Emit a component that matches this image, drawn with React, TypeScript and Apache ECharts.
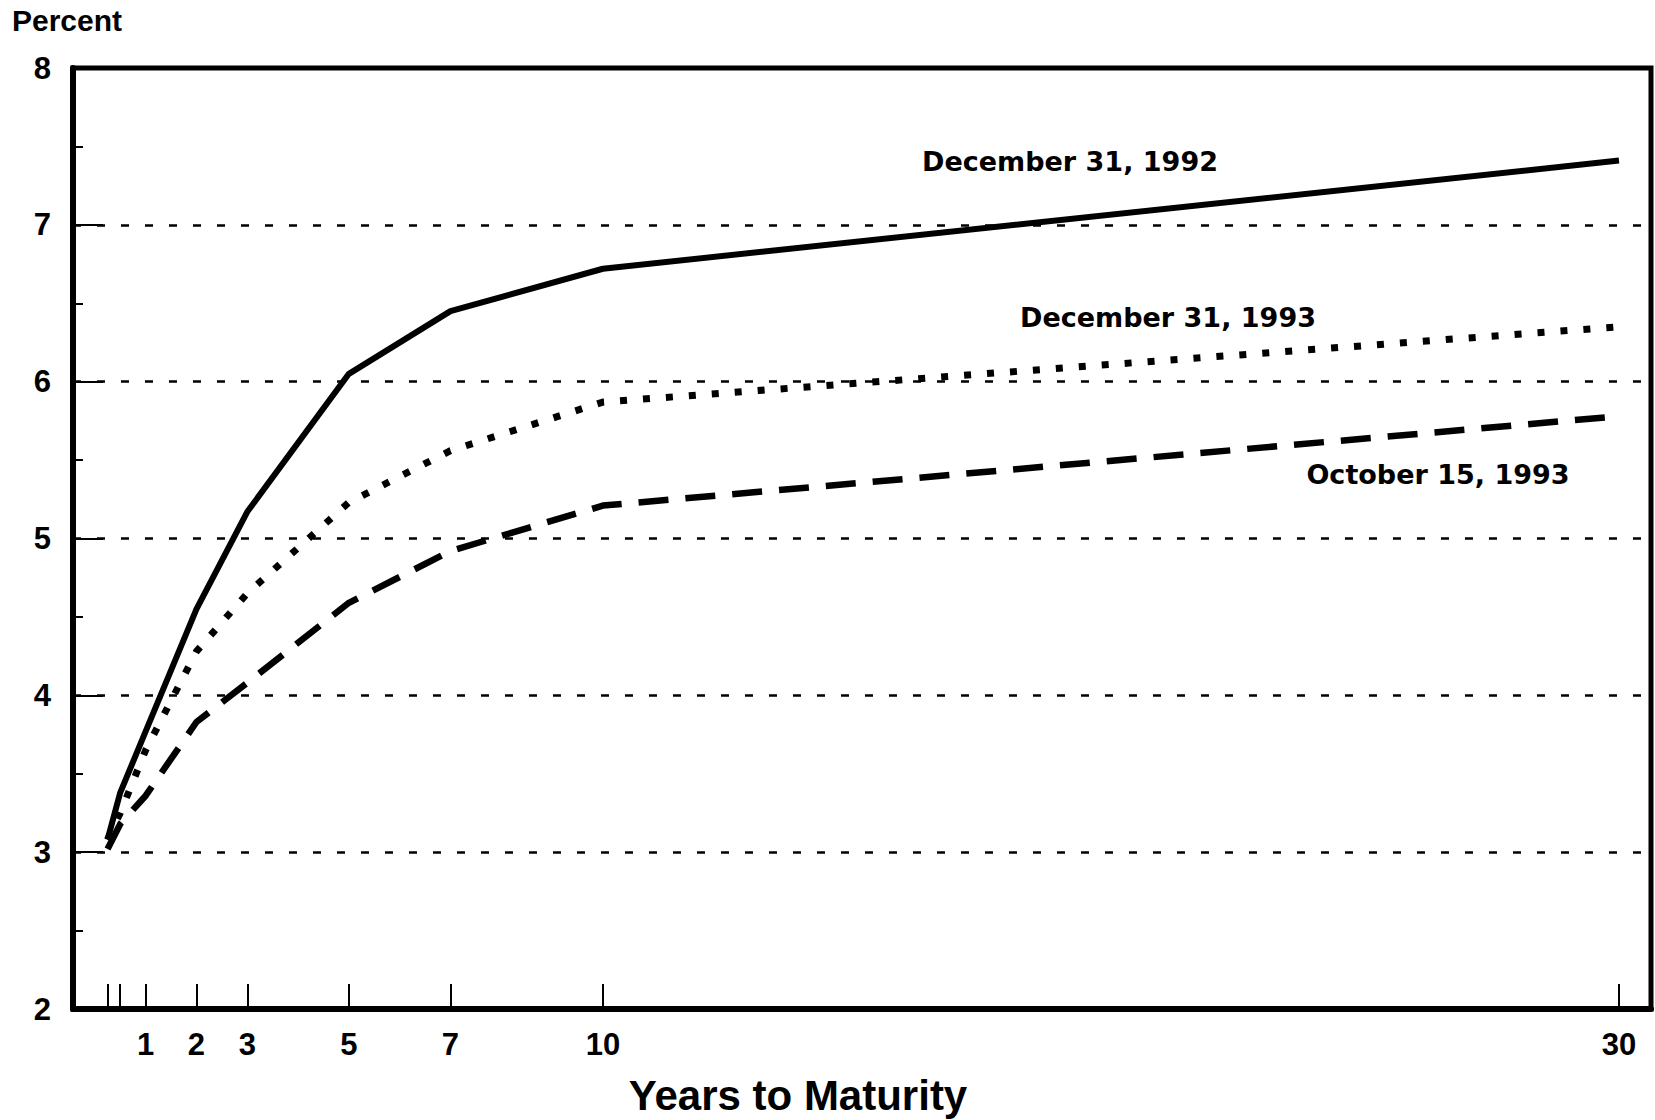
import React, { useEffect, useRef } from "react";
import * as echarts from "echarts";

const tickYears = [0.25, 0.5, 1, 2, 3, 5, 7, 10, 30];
const labelYears = [1, 2, 3, 5, 7, 10, 30];
const maturities = [0.25, 0.5, 1, 2, 3, 5, 7, 10, 30];
const dec1992 = [3.08, 3.38, 3.77, 4.55, 5.17, 6.05, 6.45, 6.72, 7.41];
const dec1993 = [3.08, 3.25, 3.65, 4.28, 4.65, 5.23, 5.56, 5.87, 6.35];
const oct1993 = [3.02, 3.18, 3.36, 3.83, 4.08, 4.59, 4.92, 5.21, 5.78];
const seriesNames = ["December 31, 1992", "December 31, 1993", "October 15, 1993"];

const FONT = "'Liberation Sans', Arial, Helvetica, sans-serif";
const WIDE_FONT = "'DejaVu Sans', 'Liberation Sans', Arial, sans-serif";

function pairs(vals: number[]) {
  return maturities.map((m, i) => [m, vals[i]]);
}

export default function App() {
  const ref = useRef<HTMLDivElement>(null);
  useEffect(() => {
    if (!ref.current) return;
    const chart = echarts.init(ref.current, null, { renderer: "svg" });
    const textStyle = (size: number, family: string) => ({
      fill: "#000",
      fontSize: size,
      fontWeight: "bold" as const,
      fontFamily: family,
      align: "center" as const,
      verticalAlign: "middle" as const,
    });
    chart.setOption({
      animation: false,
      backgroundColor: "#fff",
      grid: {
        left: 73,
        right: 4,
        top: 68,
        bottom: 111,
        show: true,
        borderColor: "#000",
        borderWidth: 5,
      },
      xAxis: {
        type: "value",
        min: -0.43,
        max: 30.63,
        axisLine: { show: true, onZero: false, lineStyle: { color: "#000", width: 6 } },
        axisTick: {
          show: true,
          inside: true,
          length: 25,
          customValues: tickYears,
          lineStyle: { color: "#000", width: 2 },
        },
        axisLabel: {
          show: true,
          customValues: labelYears,
          color: "#000",
          fontSize: 31,
          fontWeight: "bold",
          fontFamily: FONT,
          margin: 20,
        },
        splitLine: { show: false },
      },
      yAxis: {
        type: "value",
        min: 2,
        max: 8,
        interval: 1,
        axisLine: { show: true, onZero: false, lineStyle: { color: "#000", width: 6 } },
        axisTick: {
          show: true,
          inside: true,
          length: 30,
          lineStyle: { color: "#000", width: 2 },
        },
        minorTick: {
          show: true,
          splitNumber: 2,
          length: 10,
          lineStyle: { color: "#000", width: 2 },
        },
        axisLabel: {
          color: "#000",
          fontSize: 31,
          fontWeight: "bold",
          fontFamily: FONT,
          margin: 22,
        },
        splitLine: {
          show: true,
          lineStyle: { color: "#000", width: 2.5, type: [8, 16] },
        },
      },
      series: [
        {
          name: seriesNames[0],
          type: "line",
          symbol: "none",
          data: pairs(dec1992),
          lineStyle: { color: "#000", width: 6, type: "solid" },
          z: 5,
        },
        {
          name: seriesNames[1],
          type: "line",
          symbol: "none",
          data: pairs(dec1993),
          lineStyle: { color: "#000", width: 7, type: [7, 16], cap: "butt" },
          z: 4,
        },
        {
          name: seriesNames[2],
          type: "line",
          symbol: "none",
          data: pairs(oct1993),
          lineStyle: { color: "#000", width: 6.5, type: [30, 17], cap: "butt" },
          z: 4,
        },
      ],
      graphic: [
        { type: "text", x: 67, y: 20, style: { text: "Percent", ...textStyle(30, FONT) } },
        { type: "text", x: 1070, y: 161, style: { text: seriesNames[0], ...textStyle(27, WIDE_FONT) } },
        { type: "text", x: 1168, y: 317, style: { text: seriesNames[1], ...textStyle(27, WIDE_FONT) } },
        { type: "text", x: 1438, y: 474, style: { text: seriesNames[2], ...textStyle(27, WIDE_FONT) } },
        { type: "text", x: 798, y: 1095, style: { text: "Years to Maturity", ...textStyle(42, FONT) } },
      ],
    });
    return () => chart.dispose();
  }, []);
  return (
    <div
      ref={ref}
      style={{ position: "absolute", left: 0, top: 0, width: 1655, height: 1120, background: "#fff" }}
    />
  );
}
